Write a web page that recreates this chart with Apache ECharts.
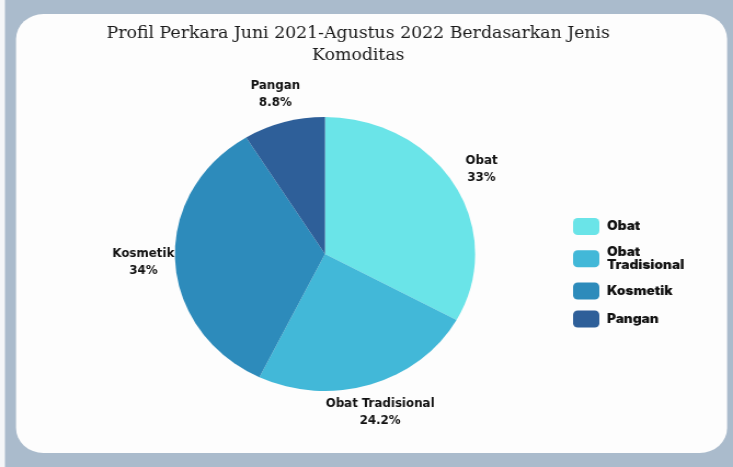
<!DOCTYPE html>
<html>
<head>
<meta charset="utf-8">
<script src="https://cdn.jsdelivr.net/npm/echarts@6/dist/echarts.min.js"></script>
<style>
html,body{margin:0;padding:0;background:#aabbcc;overflow:hidden;}
#c{width:669px;height:467px;transform:scaleX(1.0957);transform-origin:0 0;}
</style>
</head>
<body>
<div id="c"></div>
<script>
const categories = ['Obat', 'Obat Tradisional', 'Kosmetik', 'Pangan'];
const values = [33, 24.2, 34, 8.8];
const colors = ['#6ae4e8', '#42b8d8', '#2d8bbb', '#2e5f99'];
const titleText = 'Profil Perkara Juni 2021-Agustus 2022 Berdasarkan Jenis\nKomoditas';

const data = categories.map((n, i) => ({ name: n, value: values[i] }));
const chart = echarts.init(document.getElementById('c'), null, { renderer: 'canvas' });
chart.setOption({
  backgroundColor: '#aabbcc',
  animation: false,
  color: colors,
  graphic: [
    { type: 'rect', left: 0, top: 0, shape: { width: 4.5, height: 467 }, style: { fill: '#f4f6f8' }, silent: true },
    { type: 'rect', left: 14.6, top: 14, shape: { width: 649, height: 439, r: 25 }, style: { fill: '#fdfdfd' }, silent: true, z: -1 }
  ],
  title: {
    text: titleText,
    left: 322,
    textAlign: 'center',
    top: 18,
    textStyle: { fontFamily: 'DejaVu Serif', fontWeight: 'normal', fontSize: 15.8, lineHeight: 22, color: '#1a1a1a' }
  },
  legend: {
    orient: 'vertical',
    left: 518,
    top: 213,
    itemWidth: 24,
    itemHeight: 17,
    itemGap: 11,
    icon: 'roundRect',
    formatter: n => n === 'Obat Tradisional' ? 'Obat\nTradisional' : n,
    textStyle: { fontFamily: "Inter, 'DejaVu Sans', sans-serif", fontWeight: 900, fontSize: 12.5, lineHeight: 12.5, color: '#111', padding: [0, 0, 0, 2] },
    data: categories
  },
  series: [
    {
      type: 'pie',
      center: [296.6, 254],
      radius: 137,
      startAngle: 90,
      clockwise: true,
      label: { show: false },
      labelLine: { show: false },
      emphasis: { disabled: true },
      data: data
    },
    {
      type: 'pie',
      center: [296.6, 254],
      radius: [152, 174],
      startAngle: 90,
      clockwise: true,
      silent: true,
      itemStyle: { color: 'rgba(0,0,0,0)' },
      label: {
        show: true,
        position: 'inside',
        formatter: p => p.name + '\n' + p.value + '%',
        fontFamily: "'DejaVu Sans Condensed', Roboto, sans-serif",
        fontWeight: 'bold',
        fontSize: 12,
        lineHeight: 17,
        color: '#111'
      },
      labelLine: { show: false },
      emphasis: { disabled: true },
      data: data
    }
  ]
});
</script>
</body>
</html>
